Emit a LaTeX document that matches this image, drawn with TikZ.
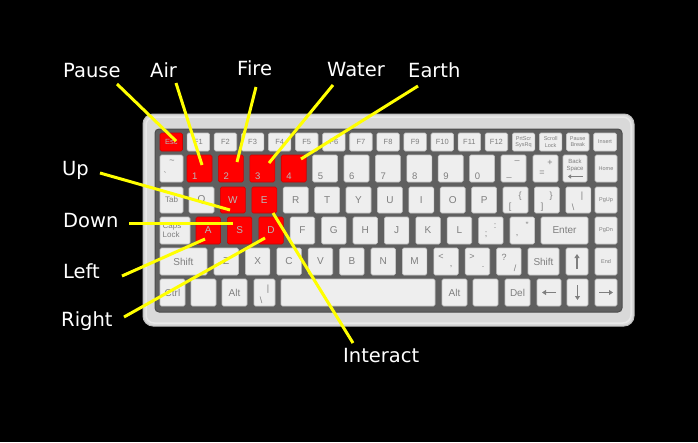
\documentclass[tikz,border=0pt]{standalone}
\usepackage{fontspec}
\setmainfont{Liberation Sans}
\newfontfamily\lblfont{DejaVu Sans}
\usetikzlibrary{calc,arrows.meta}
\definecolor{keyface}{HTML}{EEEEEE}
\definecolor{keyedge}{HTML}{C4C4C4}
\definecolor{keytext}{HTML}{7F7F7F}
\definecolor{keyred}{HTML}{FF0000}
\definecolor{rededge}{HTML}{D00000}
\definecolor{redtext}{HTML}{B8B8B8}
\definecolor{panel}{HTML}{5F5F5F}
\definecolor{paneledge}{HTML}{4C4C4C}
\definecolor{bodygray}{HTML}{D9D9D9}
\definecolor{bodyedge}{HTML}{BDBDBD}
\definecolor{bodylight}{HTML}{E8E8E8}
\definecolor{lineyellow}{HTML}{FFFF00}
\newcommand\mkkey[7][key]{\node[#1, minimum width={((#5)-(#3))*1pt}, minimum height={((#6)-(#4))*1pt}] (#2) at ({((#3)+(#5))/2},{((#4)+(#6))/2}) {#7};}
\begin{document}
\begin{tikzpicture}[x={(1pt,0pt)}, y={(0pt,-1pt)},
  key/.style={draw=keyedge, fill=keyface, rounded corners=1.5pt, inner sep=0pt, line width=0.6pt, text=keytext, font=\fontsize{10}{10}\selectfont, align=center},
  redkey/.style={key, fill=keyred, draw=rededge, text=redtext},
  fkey/.style={key, font=\fontsize{7.5}{7.5}\selectfont},
  tinykey/.style={key, font=\fontsize{5.5}{6.2}\selectfont},
  ktext/.style={inner sep=0pt, text=keytext, font=\fontsize{9}{9}\selectfont},
  lbl/.style={inner sep=0pt, anchor=base west, text=white, font=\lblfont\fontsize{19.5}{20}\selectfont},
  conn/.style={draw=lineyellow, line width=3pt},
  arrowglyph/.style={draw=keytext, line width=1.1pt, -{Triangle[length=4pt,width=5pt]}}]
\useasboundingbox (0,0) rectangle (698,442);
\fill[black] (0,0) rectangle (698,442);
% body
\draw[fill=bodygray, draw=bodyedge, line width=1pt, rounded corners=10pt] (143,114) rectangle (634,326);
\draw[draw=bodylight, line width=1.5pt, rounded corners=8pt] (146,117) rectangle (631,323);
\draw[fill=panel, draw=paneledge, line width=1pt, rounded corners=4pt] (155,129) rectangle (622,312);
% row 1
\mkkey[redkey, font=\fontsize{7.5}{7.5}\selectfont]{esc}{160}{133}{182.5}{151}{Esc}
\foreach \i in {1,...,12} {
  \pgfmathsetmacro\xa{160+27.1*\i}
  \mkkey[fkey]{f\i}{\xa}{133}{\xa+22.5}{151}{F\i}
}
\mkkey[tinykey]{prtscr}{512.3}{133}{534.8}{151}{PrtScr\\SysRq}
\mkkey[tinykey]{scroll}{539.4}{133}{561.9}{151}{Scroll\\Lock}
\mkkey[tinykey]{pausekey}{566.5}{133}{589}{151}{Pause\\Break}
\mkkey[tinykey]{insert}{593.6}{133}{616.5}{151}{Insert}
% row 2
\mkkey{tilde}{160}{155}{183}{182}{}
\node[ktext] (tildeA) at (172,162) {\textasciitilde};
\node[ktext] (tildeB) at (165,175) {\textasciigrave};
\foreach \d [count=\i from 0] in {1,2,3,4,5,6,7,8,9,0} {
  \pgfmathsetmacro\xa{187+31.4*\i}
  \ifnum\i<4 \def\kcol{keyred}\def\ecol{rededge}\def\tcol{redtext}\else\def\kcol{keyface}\def\ecol{keyedge}\def\tcol{keytext}\fi
  \mkkey[key, fill=\kcol, draw=\ecol]{k\d}{\xa}{155}{\xa+25}{182}{}
  \node[ktext, anchor=base west, text=\tcol, font=\fontsize{9.5}{9.5}\selectfont] (kt\d) at (\xa+5,179) {\d};
}
\mkkey{minus}{501}{155}{526}{182}{}
\node[ktext] (minusA) at (517,162) {\textendash};
\node[ktext] (minusB) at (509,177) {\_};
\mkkey{equal}{533}{155}{558}{182}{}
\node[ktext] (equalA) at (550,163) {+};
\node[ktext] (equalB) at (542,173) {=};
\mkkey{bksp}{563}{155}{587}{182}{}
\node[ktext, font=\fontsize{6}{6.5}\selectfont, align=center] (bkspT) at (575,165.5) {Back\\Space};
\draw[arrowglyph, line width=0.9pt, -{Triangle[length=3pt,width=4pt]}] (583,176.5) -- (568,176.5);
\mkkey[tinykey]{home}{595}{155}{617}{182}{Home}
% row 3
\mkkey[key, font=\fontsize{8}{8}\selectfont]{tab}{160}{187}{183}{213}{Tab}
\foreach \c [count=\i from 0] in {Q,W,E,R,T,Y,U,I,O,P} {
  \pgfmathsetmacro\xa{189+31.4*\i}
  \ifnum\i=1 \def\kcol{keyred}\def\ecol{rededge}\def\tcol{redtext}\else
  \ifnum\i=2 \def\kcol{keyred}\def\ecol{rededge}\def\tcol{redtext}\else
  \def\kcol{keyface}\def\ecol{keyedge}\def\tcol{keytext}\fi\fi
  \mkkey[key, fill=\kcol, draw=\ecol, text=\tcol]{k\c}{\xa}{187}{\xa+25}{213}{\c}
}
\mkkey{lbrack}{503}{187}{528}{213}{}
\node[ktext] (lbrackA) at (520,196) {\{};
\node[ktext] (lbrackB) at (510,207) {[};
\mkkey{rbrack}{534.4}{187}{559.4}{213}{}
\node[ktext] (rbrackA) at (551,196) {\}};
\node[ktext] (rbrackB) at (542,207) {]};
\mkkey{bslash}{565.8}{187}{590.8}{213}{}
\node[ktext] (bslashA) at (582,196) {|};
\node[ktext] (bslashB) at (573,207) {\textbackslash};
\mkkey[tinykey]{pgup}{595}{187}{617}{213}{PgUp}
% row 4
\mkkey{caps}{160}{217}{190}{244}{}
\node[ktext, font=\fontsize{8}{9}\selectfont, align=left] (capsT) at (172,230.5) {Caps\\Lock};
\foreach \c [count=\i from 0] in {A,S,D,F,G,H,J,K,L} {
  \pgfmathsetmacro\xa{196+31.4*\i}
  \ifnum\i<3 \def\kcol{keyred}\def\ecol{rededge}\def\tcol{redtext}\else\def\kcol{keyface}\def\ecol{keyedge}\def\tcol{keytext}\fi
  \mkkey[key, fill=\kcol, draw=\ecol, text=\tcol]{k\c}{\xa}{217}{\xa+24.5}{244}{\c}
}
\mkkey{semi}{478.6}{217}{503.1}{244}{}
\node[ktext] (semiA) at (495,226) {:};
\node[ktext] (semiB) at (486,235) {;};
\mkkey{quote}{510}{217}{534.5}{244}{}
\node[ktext] (quoteA) at (527,225) {"};
\node[ktext] (quoteB) at (517,236) {,};
\mkkey{enter}{541}{217}{588}{244}{Enter}
\mkkey[tinykey]{pgdn}{595}{217}{617}{244}{PgDn}
% row 5
\mkkey{lshift}{160}{248}{207}{275}{Shift}
\foreach \c [count=\i from 0] in {Z,X,C,V,B,N,M} {
  \pgfmathsetmacro\xa{214+31.4*\i}
  \mkkey{k\c}{\xa}{248}{\xa+24.5}{275}{\c}
}
\mkkey{comma}{433.8}{248}{458.3}{275}{}
\node[ktext] (commaA) at (441,257) {<};
\node[ktext] (commaB) at (451,267) {,};
\mkkey{period}{465.2}{248}{489.7}{275}{}
\node[ktext] (periodA) at (472,257) {>};
\node[ktext] (periodB) at (483,267) {.};
\mkkey{slash}{496.6}{248}{521.1}{275}{}
\node[ktext] (slashA) at (504,257) {?};
\node[ktext] (slashB) at (515,268) {/};
\mkkey{rshift}{528}{248}{559}{275}{Shift}
\mkkey{up}{566}{248}{588}{275}{}
\draw[arrowglyph] (up.center) ++(0,7.5) -- ++(0,-15);
\mkkey[tinykey]{endkey}{595}{248}{617}{275}{End}
% row 6
\mkkey{ctrl}{160}{279}{185}{306}{Ctrl}
\mkkey{blankA}{191}{279}{216}{306}{}
\mkkey{laltkey}{222}{279}{247}{306}{Alt}
\mkkey{bslashB2}{254}{279}{275}{306}{}
\node[ktext] (bsTwoA) at (268,289) {|};
\node[ktext] (bsTwoB) at (261,300) {\textbackslash};
\mkkey{space}{281}{279}{435}{306}{}
\mkkey{raltkey}{442}{279}{467}{306}{Alt}
\mkkey{blankB}{473}{279}{498}{306}{}
\mkkey{del}{505}{279}{530}{306}{Del}
\mkkey{leftkey}{537}{279}{561}{306}{}
\draw[arrowglyph] (leftkey.center) ++(7,0) -- ++(-14,0);
\mkkey{downkey}{567}{279}{588}{306}{}
\draw[arrowglyph] (downkey.center) ++(0,-7.5) -- ++(0,15);
\mkkey{rightkey}{595}{279}{617}{306}{}
\draw[arrowglyph] (rightkey.center) ++(-7,0) -- ++(14,0);
% labels
\node[lbl] (pause) at (63,77) {Pause};
\node[lbl] (air) at (150,77) {Air};
\node[lbl] (fire) at (237,75) {Fire};
\node[lbl] (water) at (327,76) {Water};
\node[lbl] (earth) at (408,77) {Earth};
\node[lbl] (upl) at (62,175) {Up};
\node[lbl] (downl) at (63,227) {Down};
\node[lbl] (leftl) at (63,278) {Left};
\node[lbl] (rightl) at (61,326) {Right};
\node[lbl] (interact) at (343,362) {Interact};
% connector ends
\coordinate (pauseS) at (117,84);   \coordinate (pauseE) at (176,141);
\coordinate (airS) at (176,83);     \coordinate (airE) at (202,165);
\coordinate (fireS) at (256,87);    \coordinate (fireE) at (237,162);
\coordinate (waterS) at (333,85);   \coordinate (waterE) at (269,163);
\coordinate (earthS) at (418,86);   \coordinate (earthE) at (301,159);
\coordinate (upS) at (100,173);     \coordinate (upE) at (230,210);
\coordinate (downS) at (129,223);   \coordinate (downE) at (233,223);
\coordinate (leftS) at (122,276);   \coordinate (leftE) at (205,239);
\coordinate (rightS) at (124,317);  \coordinate (rightE) at (265,238);
\coordinate (interS) at (353,343);  \coordinate (interE) at (273,213);
\foreach \n in {pause,air,fire,water,earth,up,down,left,right,inter}
  \draw[conn] (\n S) -- (\n E);
\end{tikzpicture}
\end{document}
